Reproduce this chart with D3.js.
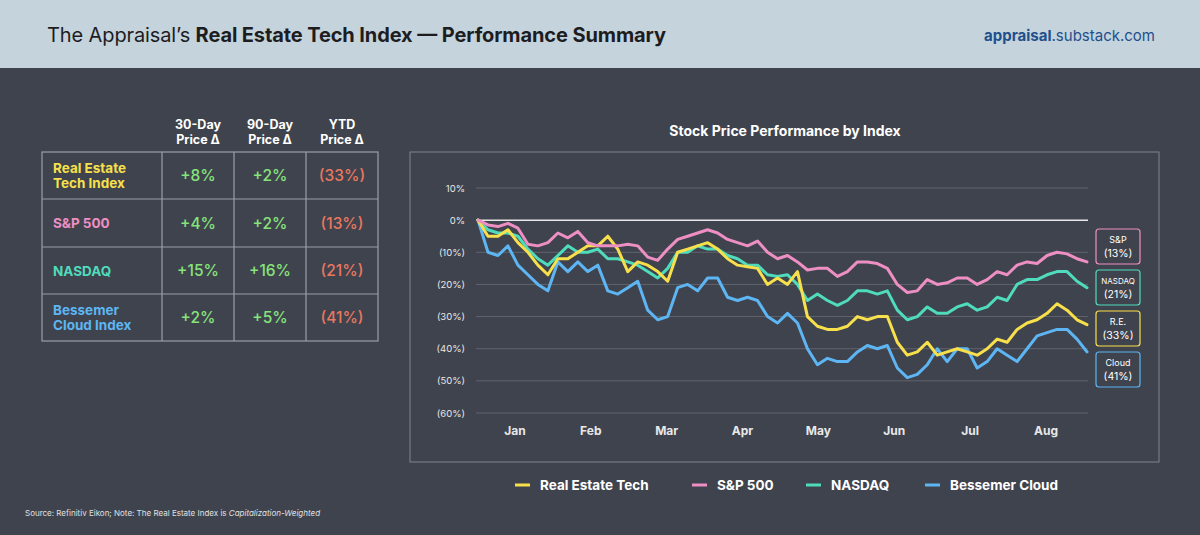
<!DOCTYPE html>
<html><head><meta charset="utf-8">
<script src="https://cdn.jsdelivr.net/npm/d3@7"></script>
<style>body{margin:0;background:#3f434d;}svg{display:block;font-family:"Helvetica Neue",Inter,"Liberation Sans",Arial,sans-serif;}</style>
</head><body><svg id="c" width="1200" height="535"></svg>
<script>
const seriesNames = ["Real Estate Tech","S&P 500","NASDAQ","Bessemer Cloud"];
const seriesShort = ["R.E.","S&P","NASDAQ","Cloud"];
const seriesColors = ["#f7e04b","#ee8fc4","#4fdcbc","#5db6f3"];
const realEstate = [0,-5,-5,-3,-7,-10,-14,-17,-12,-12,-10,-8,-8,-5,-9,-16,-13,-14,-16,-19,-10,-9,-8,-7,-9,-12,-14,-14.5,-15,-20,-18,-20,-16,-30,-33,-34,-34,-33,-30,-31,-30,-30,-38,-42,-41,-38,-42,-41,-40,-41,-42,-40,-37,-38,-34,-32,-31,-29,-26,-28,-31,-32.5];
const sp500 = [0,-1.5,-2,-1,-2.5,-7.5,-8,-7,-4,-5.5,-3.5,-7,-8,-8,-8,-7.5,-8,-11.5,-12.5,-9,-6,-5,-4,-3,-4,-6,-7,-8,-6.5,-10,-12,-11,-13,-15.5,-15,-15,-17.5,-16,-13,-13,-13.5,-15,-20,-22.5,-22,-18.5,-20,-19.5,-18,-18,-20,-18.5,-16,-17,-14,-13,-13.5,-11,-10,-10.5,-12,-13];
const nasdaq = [0,-3,-4,-4,-5,-9,-12,-14,-11,-8,-10,-10,-9,-12,-12,-13,-14,-16,-18,-15,-10,-10,-8,-9,-9,-11,-12,-14,-14,-17,-17.5,-17,-20,-25,-23,-25,-26.5,-25,-22,-22,-23,-22,-28,-31,-30,-27,-29,-29,-27,-26,-28,-27,-24,-25,-20,-18.5,-18.5,-17,-16,-16,-19,-21];
const cloud = [0,-10,-11,-8,-14,-17,-20,-22,-13,-16,-13,-16,-14,-22,-23,-21,-19,-28,-31,-30,-21,-20,-22,-18,-18,-24,-25,-24,-25,-30,-32,-29,-32,-40,-45,-43,-44,-44,-41,-39,-40,-39,-46,-49,-48,-45,-40,-44,-40,-40,-46,-44,-40,-42,-44,-40,-36,-35,-34,-34,-37,-41];
const months = ["Jan","Feb","Mar","Apr","May","Jun","Jul","Aug"];
const monthIdx = [3.7,11.3,18.9,26.5,34.1,41.7,49.3,56.9];
const yTicks = [10,0,-10,-20,-30,-40,-50,-60];
const tableCols = ["30-Day|Price Δ","90-Day|Price Δ","YTD|Price Δ"];
const tableRows = ["Real Estate|Tech Index","S&P 500","NASDAQ","Bessemer|Cloud Index"];
const tableRowColors = ["#f7e04b","#ee8fc4","#4fdcbc","#5db6f3"];
const d30 = [8,4,15,2], d90 = [2,2,16,5], ytd = [-33,-13,-21,-41];
const allSeries = [realEstate, sp500, nasdaq, cloud];

const svg = d3.select("#c");
svg.append("rect").attr("width",1200).attr("height",535).attr("fill","#3f434d");
svg.append("rect").attr("width",1200).attr("height",68).attr("fill","#c4d3dc");
const t = svg.append("text").attr("x",47).attr("y",42).attr("font-size",20).attr("fill","#1d1d1f").attr("textLength",619);
t.append("tspan").text("The Appraisal’s ");
t.append("tspan").attr("font-weight","bold").text("Real Estate Tech Index — Performance Summary");
const r = svg.append("text").attr("x",1155).attr("y",41).attr("text-anchor","end").attr("font-size",15).attr("fill","#1f4f8c");
r.append("tspan").attr("font-weight","bold").text("appraisal");
r.append("tspan").text(".substack.com");

// table
const colX = [42,162,234,306,378], rowY = [152,199,247,294,341];
tableCols.forEach((c,i)=>{
  const cx=(colX[i+1]+colX[i+2])/2;
  c.split("|").forEach((l,j)=>svg.append("text").attr("x",cx).attr("y",129+j*15).attr("text-anchor","middle").attr("font-size",12.5).attr("font-weight","bold").attr("fill","#fff").text(l));
});
svg.append("rect").attr("x",42).attr("y",152).attr("width",336).attr("height",189).attr("fill","none").attr("stroke","#9a9ea6").attr("stroke-width",1.2);
colX.slice(1,4).forEach(x=>svg.append("line").attr("x1",x).attr("x2",x).attr("y1",152).attr("y2",341).attr("stroke","#9a9ea6").attr("stroke-width",1.2));
rowY.slice(1,4).forEach(y=>svg.append("line").attr("x1",42).attr("x2",378).attr("y1",y).attr("y2",y).attr("stroke","#9a9ea6").attr("stroke-width",1.2));
const fmtPos = v=>"+"+v+"%", fmtNeg=v=>v<0?"("+Math.abs(v)+"%)":fmtPos(v);
tableRows.forEach((name,i)=>{
  const cy=(rowY[i]+rowY[i+1])/2;
  const lines=name.split("|");
  lines.forEach((l,j)=>svg.append("text").attr("x",53).attr("y",cy+5+(j-(lines.length-1)/2)*15).attr("font-size",13.5).attr("font-weight","bold").attr("fill",tableRowColors[i]).text(l));
  [[d30[i],"#86e37c"],[d90[i],"#86e37c"],[ytd[i],"#e9775f"]].forEach(([v,col],k)=>{
    svg.append("text").attr("x",(colX[k+1]+colX[k+2])/2).attr("y",cy+5.5).attr("text-anchor","middle").attr("font-size",15.5).attr("font-weight",500).attr("fill",col).text(fmtNeg(v));
  });
});

// chart
svg.append("rect").attr("x",410).attr("y",152).attr("width",749).attr("height",310).attr("fill","none").attr("stroke","#80848c").attr("stroke-width",1);
svg.append("text").attr("x",785).attr("y",136).attr("text-anchor","middle").attr("font-size",14).attr("font-weight","bold").attr("fill","#fff").text("Stock Price Performance by Index");
const x = d3.scaleLinear().domain([0,61]).range([478,1087]);
const y = d3.scaleLinear().domain([10,-60]).range([188,413]);
yTicks.forEach(v=>{
  svg.append("line").attr("x1",476).attr("x2",1088).attr("y1",y(v)).attr("y2",y(v)).attr("stroke",v===0?"#e8e8e8":"#60646c").attr("stroke-width",v===0?1.5:1);
  svg.append("text").attr("x",465).attr("y",y(v)+3.5).attr("text-anchor","end").attr("font-size",9.5).attr("fill","#e8e8e8").text(v<0?"("+Math.abs(v)+"%)":v+"%");
});
months.forEach((m,i)=>svg.append("text").attr("x",x(monthIdx[i])).attr("y",435).attr("text-anchor","middle").attr("font-size",12).attr("font-weight","bold").attr("fill","#e8e8e8").text(m));
const line = d3.line().x((d,i)=>x(i)).y(d=>y(d)).curve(d3.curveLinear);
[3,2,0,1].forEach(k=>svg.append("path").attr("d",line(allSeries[k])).attr("fill","none").attr("stroke",seriesColors[k]).attr("stroke-width",3).attr("stroke-linejoin","round").attr("stroke-linecap","round"));
// end labels
[1,2,0,3].forEach((k,j)=>{
  const by=229+j*41;
  svg.append("rect").attr("x",1096).attr("y",by).attr("width",44).attr("height",35).attr("rx",3).attr("fill","none").attr("stroke",seriesColors[k]).attr("stroke-width",1.2);
  svg.append("text").attr("x",1118).attr("y",by+14).attr("text-anchor","middle").attr("font-size",k===2?8:9).attr("fill","#fff").text(seriesShort[k]);
  svg.append("text").attr("x",1118).attr("y",by+28).attr("text-anchor","middle").attr("font-size",10.5).attr("fill","#fff").text("("+Math.abs(allSeries[k][allSeries[k].length-1]).toFixed(0)+"%)");
});
// bottom legend
const legX=[515,692,806,925];
seriesNames.forEach((n,i)=>{
  svg.append("line").attr("x1",legX[i]).attr("x2",legX[i]+15).attr("y1",485).attr("y2",485).attr("stroke",seriesColors[i]).attr("stroke-width",3);
  svg.append("text").attr("x",legX[i]+25).attr("y",490).attr("font-size",13.5).attr("font-weight","bold").attr("fill","#fff").text(n);
});
const s=svg.append("text").attr("x",25).attr("y",516).attr("font-size",8).attr("fill","#e0e0e0");
s.append("tspan").text("Source: Refinitiv Eikon; Note: The Real Estate Index is ");
s.append("tspan").attr("font-style","italic").text("Capitalization-Weighted");
</script></body></html>
